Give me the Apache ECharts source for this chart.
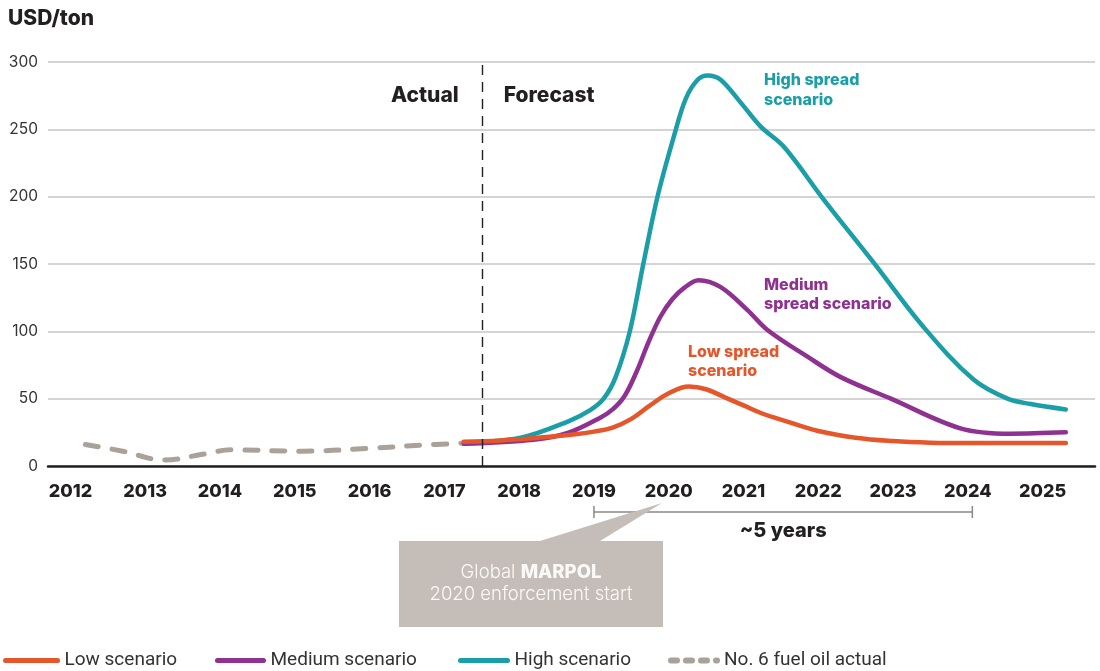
<!DOCTYPE html>
<html><head><meta charset="utf-8">
<script src="https://cdn.jsdelivr.net/npm/echarts@6/dist/echarts.min.js"></script>
<style>html,body{margin:0;padding:0;background:#fff}#c{width:1100px;height:671px}</style>
</head><body><div id="c"></div>
<script>
// ---- data ----
const yearTicks = [2012,2013,2014,2015,2016,2017,2018,2019,2020,2021,2022,2023,2024,2025];
const actualX = [2012.2, 2012.7, 2013.25, 2013.8, 2014.15, 2015.1, 2016.1, 2016.7, 2017.26];
const actualY = [16, 11, 4.5, 9, 12, 11, 13.5, 15.5, 17];
const lowX  = [2017.26, 2017.75, 2018.25, 2018.75, 2019.0, 2019.25, 2019.5, 2019.75, 2020.0, 2020.27, 2020.5, 2020.75, 2021.0, 2021.25, 2021.5, 2022.0, 2022.5, 2023.0, 2023.5, 2024.0, 2024.5, 2025.31];
const lowY  = [18, 19, 21, 23.5, 25.5, 28.5, 35, 45, 54, 59, 57, 51, 45, 39, 34.5, 26, 21, 18.5, 17.3, 17, 17, 17];
const medX  = [2017.26, 2018.19, 2018.65, 2019.09, 2019.25, 2019.41, 2019.57, 2019.73, 2019.89, 2020.05, 2020.21, 2020.4, 2020.69, 2021.05, 2021.32, 2021.86, 2022.3, 2022.97, 2023.9, 2024.57, 2025.31];
const medY  = [16.5, 19.5, 24.5, 36, 42, 52, 70, 92, 111, 124, 132.5, 138, 133, 116, 101, 81, 66, 50, 28, 24, 25];
const highX = [2017.26, 2018.02, 2018.65, 2018.95, 2019.13, 2019.29, 2019.48, 2019.66, 2019.85, 2020.07, 2020.23, 2020.39, 2020.52, 2020.69, 2020.96, 2021.23, 2021.54, 2022.07, 2022.74, 2023.41, 2024.08, 2024.53, 2024.84, 2025.31];
const highY = [17, 21, 33, 41.5, 50, 66, 100, 150, 200, 245, 273, 287, 290, 287, 270, 252, 237, 198, 151, 103, 64, 50, 46, 42];
const forecastStart = 2017.5;
const bracketYears = [2019.0, 2024.06];
const seriesNames = ['Low scenario','Medium scenario','High scenario','No. 6 fuel oil actual'];
const colors = {low:'#e5562b', med:'#8f3191', high:'#1b9ea8', actual:'#aaa198'};

const zip = (xs, ys) => xs.map((x,i)=>[x, ys[i]]);
const chart = echarts.init(document.getElementById('c'), null, {renderer:'canvas'});
const dark = '#231f20';
const boldFont = 'Inter';

function legendFor(name, left, color, w, dashed) {
  return {
    data:[name], left:left, top:651, padding:0, itemGap:0,
    itemWidth: w, itemHeight:16, itemStyle:{opacity:0},
    textStyle:{fontFamily:'Roboto', fontSize:19, color:'#333', padding:[0,0,0,2]},
    lineStyle: dashed ? {width:6, type:[6,9], cap:'round', color:color} : {width:5, cap:'round', color:color}
  };
}
function lineSeries(name, xs, ys, color, extra) {
  return Object.assign({name, type:'line', data:zip(xs, ys), smooth:0.35, symbol:'none',
    lineStyle:{color, width:4.5, cap:'round', join:'round'}, itemStyle:{color}}, extra || {});
}

const option = {
  animation:false,
  grid:{left:48, right:5, top:62, bottom:205, containLabel:false},
  xAxis:{
    type:'value', min:2011.7, max:2025.7,
    axisLine:{show:true, onZero:true, lineStyle:{color:dark, width:2.5}},
    axisTick:{show:false},
    splitLine:{show:false},
    axisLabel:{customValues:yearTicks, formatter:v=>String(Math.round(v)), margin:17,
      fontFamily:boldFont, fontWeight:800, fontSize:18, color:dark}
  },
  yAxis:{
    type:'value', min:0, max:300, interval:50,
    axisLine:{show:false}, axisTick:{show:false},
    splitLine:{lineStyle:{color:'#c6c6c6', width:1.5}},
    axisLabel:{margin:10, fontFamily:'Inter', fontWeight:400, fontSize:15.5, color:'#333'}
  },
  legend:[
    legendFor(seriesNames[0], 3, colors.low, 52),
    legendFor(seriesNames[1], 215, colors.med, 46),
    legendFor(seriesNames[2], 458, colors.high, 47),
    legendFor(seriesNames[3], 668, colors.actual, 46, true)
  ],
  series:[
    lineSeries(seriesNames[3], actualX, actualY, colors.actual, {
      smooth:0.4,
      lineStyle:{color:colors.actual, width:5, type:[13,14], cap:'round'},
      markLine:{silent:true, symbol:'none', label:{show:false},
        lineStyle:{color:dark, type:[10,7], width:1.4}, data:[{xAxis:forecastStart}]}}),
    lineSeries(seriesNames[2], highX, highY, colors.high),
    lineSeries(seriesNames[1], medX, medY, colors.med),
    lineSeries(seriesNames[0], lowX, lowY, colors.low, {smooth:0.4})
  ]
};
chart.setOption(option);

const px = v => chart.convertToPixel({xAxisIndex:0}, v);
const py = v => chart.convertToPixel({yAxisIndex:0}, v);
const dashX = px(forecastStart);
const b0 = px(bracketYears[0]), b1 = px(bracketYears[1]);
const by = 512;
const callout = {x0:399, x1:663, y0:541, y1:627, apexX:662, apexY:503, baseL:540, baseR:600};

chart.setOption({graphic:[
  {type:'text', left:8, top:8, style:{text:'USD/ton', fontFamily:boldFont, fontWeight:800, fontSize:21, fill:dark}},
  {type:'text', x:dashX-23, y:py(275), style:{text:'Actual', align:'right', verticalAlign:'middle', fontFamily:boldFont, fontWeight:800, fontSize:21, fill:dark}},
  {type:'text', x:dashX+22, y:py(275), style:{text:'Forecast', align:'left', verticalAlign:'middle', fontFamily:boldFont, fontWeight:800, fontSize:21, fill:dark}},
  {type:'text', x:764, y:70, style:{text:'High spread\nscenario', lineHeight:20, fontFamily:boldFont, fontWeight:800, fontSize:16, fill:colors.high}},
  {type:'text', x:764, y:276, style:{text:'Medium\nspread scenario', lineHeight:19, fontFamily:boldFont, fontWeight:800, fontSize:16, fill:colors.med}},
  {type:'text', x:688, y:343, style:{text:'Low spread\nscenario', lineHeight:19, fontFamily:boldFont, fontWeight:800, fontSize:16, fill:colors.low}},
  {type:'polyline', shape:{points:[[b0,by-6],[b0,by+6]]}, style:{stroke:'#888', lineWidth:1.5}},
  {type:'polyline', shape:{points:[[b0,by],[b1,by]]}, style:{stroke:'#888', lineWidth:1.5}},
  {type:'polyline', shape:{points:[[b1,by-6],[b1,by+6]]}, style:{stroke:'#888', lineWidth:1.5}},
  {type:'text', x:(b0+b1)/2, y:531, style:{text:'~5 years', align:'center', verticalAlign:'middle', fontFamily:boldFont, fontWeight:800, fontSize:20, fill:dark}},
  {type:'polygon', shape:{points:[[callout.x0,callout.y0],[callout.baseL,callout.y0],[callout.apexX,callout.apexY],[callout.baseR,callout.y0],[callout.x1,callout.y0],[callout.x1,callout.y1],[callout.x0,callout.y1]]},
    style:{fill:'#c5beb8'}},
  {type:'text', x:(callout.x0+callout.x1)/2, y:583, style:{
    text:'Global {b|MARPOL}\n2020 enforcement start', align:'center', verticalAlign:'middle', lineHeight:22,
    fontFamily:'Inter', fontWeight:300, fontSize:18.5, fill:'#fbf9f7',
    rich:{b:{fontFamily:'Inter', fontWeight:800, fontSize:18.5, fill:'#fbf9f7', lineHeight:22}}}}
]});
</script></body></html>
